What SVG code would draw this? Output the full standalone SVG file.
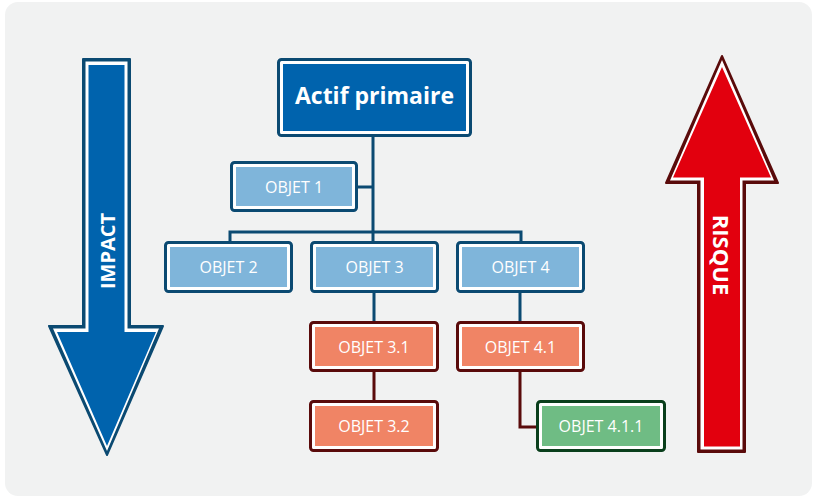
<svg xmlns="http://www.w3.org/2000/svg" width="817" height="499" viewBox="0 0 817 499">
<style>
.bg{fill:#f1f2f2}
.ob{fill:#fff;stroke-width:3}
.sb{stroke:#0b4a72}
.sr{stroke:#5a0b0b}
.sg{stroke:#0a3f1c}
.fl{fill:#7fb5da}
.fd{fill:#0063ad}
.fs{fill:#f08465}
.fg{fill:#6fbc84}
.t{font-family:"Open Sans","Noto Sans",sans-serif;fill:#fff;text-anchor:middle;dominant-baseline:central}
.tn{font-size:16px}
.tb{font-size:23px;font-weight:bold}
.ta{font-size:20px;font-weight:bold}
.cb{stroke:#0b4a72;stroke-width:3;fill:none}
.cr{stroke:#5a0b0b;stroke-width:3;fill:none}
</style>
<rect class="bg" x="5" y="2" width="807" height="494" rx="13"/>

<g id="impact">
<polygon points="83,59 130,59 130,326 163,326 107,455 49,326 83,326" fill="#0b4a72" stroke="#0b4a72" stroke-width="2" stroke-linejoin="round"/>
<polygon points="85.5,61.5 127.5,61.5 127.5,328.5 159,328.5 107,451 53,328.5 85.5,328.5" fill="#fff"/>
<polygon points="88.5,65 124.5,65 124.5,332 156,332 107,446 57,332 88.5,332" fill="#0063ad"/>
<text class="t ta" transform="translate(107,251) rotate(-90)">IMPACT</text>
</g>

<g id="risque">
<polygon points="722,56 778,183 745,183 745,452 698,452 698,183 666,183" fill="#5a0b0b" stroke="#5a0b0b" stroke-width="2" stroke-linejoin="round"/>
<polygon points="722,60 774,180.5 742.5,180.5 742.5,449.5 700.5,449.5 700.5,180.5 670,180.5" fill="#fff"/>
<polygon points="722,67 771,177.5 740,177.5 740,446.5 704,446.5 704,177.5 673,177.5" fill="#e2000e"/>
<text class="t ta" style="font-size:22px" transform="translate(722,255) rotate(90)">RISQUE</text>
</g>

<g id="connectors">
<path class="cb" d="M373,137V241M358,187H373M230,241V232H521V241M374,293V321M520,293V321"/>
<path class="cr" d="M374,372V400M520,372V427H536"/>
</g>

<g id="actif">
<rect class="ob sb" x="278.5" y="59.5" width="192" height="76" rx="3"/>
<rect class="fd" x="283" y="64" width="183" height="67"/>
<text class="t tb" x="374.5" y="95">Actif primaire</text>
</g>
<g id="objet1">
<rect class="ob sb" x="231.5" y="162.5" width="125" height="48" rx="3"/>
<rect class="fl" x="236" y="167" width="116" height="39"/>
<text class="t tn" x="294" y="186.5">OBJET 1</text>
</g>
<g id="objet2">
<rect class="ob sb" x="165.5" y="242.5" width="126" height="49" rx="3"/>
<rect class="fl" x="170" y="247" width="117" height="40"/>
<text class="t tn" x="228.5" y="267">OBJET 2</text>
</g>
<g id="objet3">
<rect class="ob sb" x="311.5" y="242.5" width="126" height="49" rx="3"/>
<rect class="fl" x="316" y="247" width="117" height="40"/>
<text class="t tn" x="374.5" y="267">OBJET 3</text>
</g>
<g id="objet4">
<rect class="ob sb" x="457.5" y="242.5" width="126" height="49" rx="3"/>
<rect class="fl" x="462" y="247" width="117" height="40"/>
<text class="t tn" x="520.5" y="267">OBJET 4</text>
</g>
<g id="objet31">
<rect class="ob sr" x="310.5" y="322.5" width="127" height="48" rx="3"/>
<rect class="fs" x="315" y="327" width="118" height="39"/>
<text class="t tn" x="374" y="346.5">OBJET 3.1</text>
</g>
<g id="objet41">
<rect class="ob sr" x="457.5" y="322.5" width="126" height="48" rx="3"/>
<rect class="fs" x="462" y="327" width="117" height="39"/>
<text class="t tn" x="520.5" y="346.5">OBJET 4.1</text>
</g>
<g id="objet32">
<rect class="ob sr" x="310.5" y="401.5" width="127" height="49" rx="3"/>
<rect class="fs" x="315" y="406" width="118" height="40"/>
<text class="t tn" x="374" y="426">OBJET 3.2</text>
</g>
<g id="objet411">
<rect class="ob sg" x="537.5" y="401.5" width="127" height="49" rx="3"/>
<rect class="fg" x="542" y="406" width="118" height="40"/>
<text class="t tn" x="601" y="426">OBJET 4.1.1</text>
</g>
</svg>
